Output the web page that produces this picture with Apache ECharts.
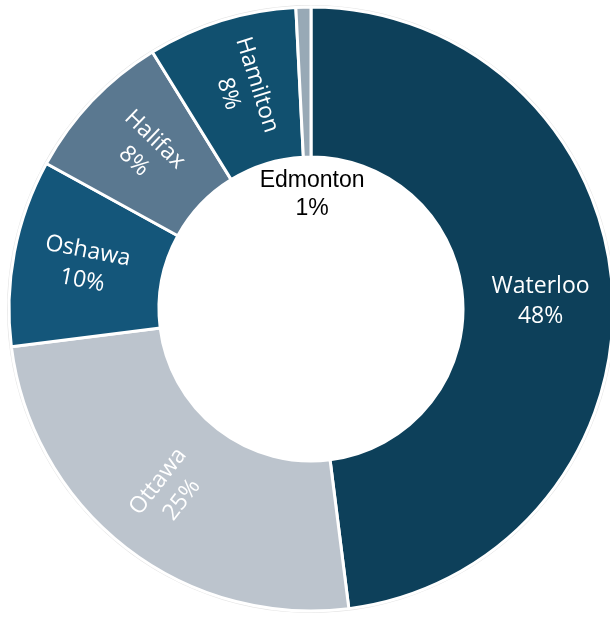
<!DOCTYPE html>
<html>
<head>
<meta charset="utf-8">
<script src="https://cdn.jsdelivr.net/npm/echarts@6/dist/echarts.min.js"></script>
<style>
html,body{margin:0;padding:0;background:#fff;}
#chart{width:610px;height:617px;}
</style>
</head>
<body>
<div id="chart"></div>
<script>
const categories = ['Waterloo', 'Ottawa', 'Oshawa', 'Halifax', 'Hamilton', 'Edmonton'];
const values = [48, 25, 10, 8.2, 8, 0.8];
const percentLabels = ['48%', '25%', '10%', '8%', '8%', '1%'];
const colors = ['#0d405a', '#bcc4cd', '#14567a', '#5a7890', '#11506f', '#98a9b6'];

const chart = echarts.init(document.getElementById('chart'));

const ringData = categories.map((c, i) => ({
  name: c,
  value: values[i],
  itemStyle: { color: colors[i] },
  label: c === 'Edmonton' ? { show: false } : (c === 'Waterloo' ? { rotate: 0, offset: [0, 7] } : {})
}));

const overlayData = categories.map((c, i) => ({
  name: c,
  value: values[i],
  label: { show: c === 'Edmonton' }
}));

chart.setOption({
  animation: false,
  series: [
    {
      type: 'pie',
      silent: true,
      center: [311, 309],
      radius: [302, 304],
      startAngle: 90,
      clockwise: true,
      label: { show: false },
      labelLine: { show: false },
      itemStyle: { color: '#e4e4e4' },
      data: [{ value: 1 }]
    },
    {
      type: 'pie',
      silent: true,
      center: [311, 309],
      radius: [152, 302],
      startAngle: 90,
      clockwise: true,
      avoidLabelOverlap: false,
      itemStyle: { borderColor: '#ffffff', borderWidth: 3 },
      label: {
        show: true,
        position: 'inside',
        rotate: 'radial',
        color: '#ffffff',
        fontFamily: 'Open Sans',
        fontSize: 23,
        lineHeight: 30,
        formatter: p => p.name + '\n' + percentLabels[p.dataIndex]
      },
      labelLine: { show: false },
      data: ringData
    },
    {
      type: 'pie',
      silent: true,
      center: [311, 309],
      radius: [0, 228],
      startAngle: 90,
      clockwise: true,
      avoidLabelOverlap: false,
      itemStyle: { color: 'rgba(0,0,0,0)' },
      label: {
        position: 'inside',
        rotate: 0,
        color: '#000000',
        fontFamily: 'Liberation Sans',
        fontSize: 23,
        lineHeight: 28,
        offset: [4, 3],
        formatter: p => p.name + '\n' + percentLabels[p.dataIndex]
      },
      labelLine: { show: false },
      data: overlayData
    }
  ]
});
</script>
</body>
</html>
